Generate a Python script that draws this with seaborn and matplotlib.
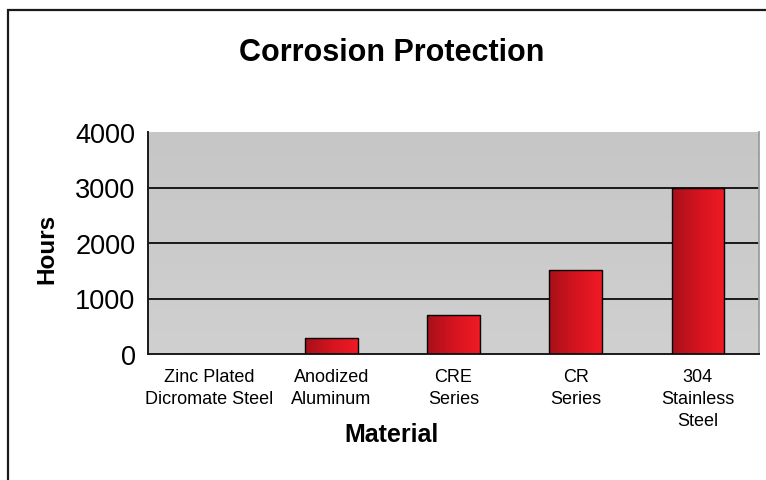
import numpy as np
import pandas as pd
import matplotlib
matplotlib.use("Agg")
import matplotlib.pyplot as plt
import seaborn as sns
from matplotlib.patches import Rectangle
from matplotlib.colors import LinearSegmentedColormap

materials = ["Zinc Plated\nDicromate Steel", "Anodized\nAluminum", "CRE\nSeries",
             "CR\nSeries", "304\nStainless\nSteel"]
hours = [0, 290, 700, 1510, 3000]
yticks = [0, 1000, 2000, 3000, 4000]

df = pd.DataFrame({"Material": materials, "Hours": hours})

sns.set_theme(style="white")
plt.rcParams["font.family"] = ["Liberation Sans", "DejaVu Sans"]
for k in ["text.color", "axes.labelcolor", "xtick.color", "ytick.color"]:
    plt.rcParams[k] = "black"

fig = plt.figure(figsize=(7.66, 4.81), dpi=100)
ax = fig.add_axes([148/766, 1-355/481, (759-148)/766, (355-133)/481])

sns.barplot(data=df, x="Material", y="Hours", ax=ax, color="#d8141e",
            width=0.43, edgecolor="black", linewidth=1.0, saturation=1)

ax.set_ylim(0, 4000)
ax.set_xlim(-0.5, len(materials) - 0.5)

# background gradient
bg = np.linspace(0, 1, 100).reshape(-1, 1)
bg_cmap = LinearSegmentedColormap.from_list("bg", ["#d0d0d0", "#c6c6c6"])
ax.imshow(bg, cmap=bg_cmap, aspect="auto", extent=[-0.5, len(materials)-0.5, 0, 4000],
          origin="lower", zorder=0)

# bar gradients
red_cmap = LinearSegmentedColormap.from_list("red", ["#a8101a", "#d4141f", "#f01a24"])
grad = np.linspace(0, 1, 100).reshape(1, -1)
for p in ax.patches:
    x0, y0, w, h = p.get_x(), p.get_y(), p.get_width(), p.get_height()
    if h <= 0:
        continue
    im = ax.imshow(grad, cmap=red_cmap, aspect="auto",
                   extent=[x0, x0 + w, y0, y0 + h], zorder=2.5)
    im.set_clip_path(p)
    p.set_facecolor("none")
    p.set_zorder(3)

ax.set_yticks(yticks)
ax.set_yticklabels([str(v) for v in yticks], fontsize=19.5)
for v in yticks[1:-1]:
    ax.axhline(v, color="#1a1a1a", lw=1.4, zorder=1)

ax.set_xticks(range(len(materials)))
ax.set_xticklabels(materials, fontsize=13, linespacing=1.4)
ax.set_xticks(np.arange(-0.5, len(materials), 1), minor=True)
ax.tick_params(axis="x", which="major", length=0, pad=10)
ax.tick_params(axis="x", which="minor", length=5, width=1, color="black", direction="out")
ax.tick_params(axis="y", length=8, width=1, color="black", direction="inout", pad=5)

ax.set_xlabel("Material", fontsize=18, fontweight="bold")
ax.xaxis.set_label_coords((392-148)/611, -(435-355)/222)
ax.xaxis.label.set_va("center")
ax.set_ylabel("Hours", fontsize=17.5, fontweight="bold")
ax.yaxis.set_label_coords(-(148-47)/611, 0.48)
ax.yaxis.label.set_va("center")

ax.spines["top"].set_visible(False)
ax.spines["right"].set_visible(True)
ax.spines["right"].set_color("#9a9a9a")
ax.spines["left"].set_color("#1a1a1a")
ax.spines["bottom"].set_color("#1a1a1a")
ax.spines["left"].set_linewidth(1.4)
ax.spines["bottom"].set_linewidth(1.4)

fig.text(392/766, 1-53/481, "Corrosion Protection", fontsize=22, fontweight="bold",
         ha="center", va="center")

# outer frame
fig.patches.append(Rectangle((8/766, -0.05), 1.0, 1-11/481+0.05, transform=fig.transFigure,
                             fill=False, edgecolor="#1a1a1a", lw=1.6))

fig.savefig("out.png", dpi=100)
